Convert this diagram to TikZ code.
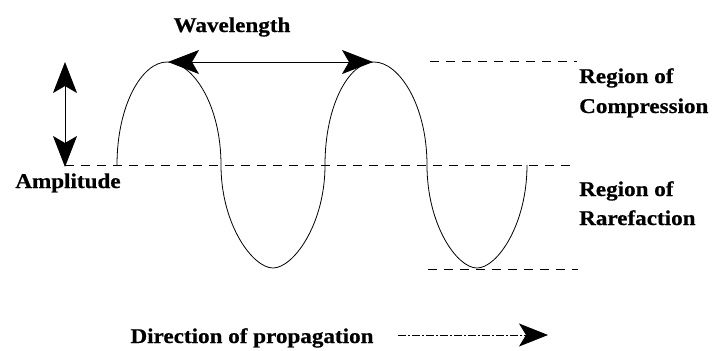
\documentclass[tikz,border=0pt]{standalone}
\usepackage{fontspec}
\setmainfont{Liberation Serif}[FakeStretch=1.1, BoldFeatures={FakeBold=0.6}]
\usetikzlibrary{arrows.meta}
\begin{document}
\begin{tikzpicture}[x=1pt,y=-1pt,
  lbl/.style={font=\fontsize{21}{24}\selectfont\bfseries, inner sep=0pt},
  wave/.style={line width=0.8pt},
  guide/.style={line width=0.7pt, dash pattern=on 9pt off 7pt},
  bigtip/.style={-{Stealth[length=29pt,width=23pt,inset=7pt]}},
  bigtips/.style={{Stealth[length=31pt,width=24pt,inset=7pt]}-{Stealth[length=31pt,width=24pt,inset=7pt]}},
]
\useasboundingbox (0,0) rectangle (716,351);
% wave key points
\coordinate (w0) at (117,165);
\coordinate (p1) at (167,62);
\coordinate (z1) at (221,165);
\coordinate (t1) at (273,268);
\coordinate (z2) at (325,165);
\coordinate (p2) at (374,62);
\coordinate (z3) at (427,165);
\coordinate (t2) at (477,268);
\coordinate (w4) at (527,165);
% guide line ends
\coordinate (gt0) at (430,61);  \coordinate (gt1) at (577,61);
\coordinate (gm0) at (65,165);  \coordinate (gm1) at (577,165);
\coordinate (gb0) at (428,269); \coordinate (gb1) at (578,269);
% amplitude arrow ends
\coordinate (a0) at (65,62);  \coordinate (a1) at (65,167);
% wavelength arrow ends
\coordinate (l0) at (168,62);  \coordinate (l1) at (373,62);
% propagation arrow ends
\coordinate (d0) at (398,335); \coordinate (d1) at (548,335);

\draw[guide] (gt0) -- (gt1);
\draw[guide] (gm0) -- (gm1);
\draw[guide] (gb0) -- (gb1);

\draw[wave] (w0) .. controls (117,105) and (142,62) .. (p1)
  .. controls (193,62) and (221,105) .. (z1)
  .. controls (221,225) and (253,268) .. (t1)
  .. controls (293,268) and (325,225) .. (z2)
  .. controls (325,105) and (349,62) .. (p2)
  .. controls (399,62) and (427,105) .. (z3)
  .. controls (427,225) and (457,268) .. (t2)
  .. controls (497,268) and (527,225) .. (w4);

\draw[line width=0.8pt, bigtips] (a0) -- (a1);
\draw[line width=0.8pt, bigtips] (l0) -- (l1);
\draw[line width=0.8pt, dash pattern=on 8pt off 2pt on 2pt off 2pt, bigtip] (d0) -- (d1);

\node[lbl, anchor=base] (wl) at (232,32) {Wavelength};
\node[lbl, anchor=base] (amp) at (68,188) {Amplitude};
\node[lbl, anchor=base west] (rc1) at (579,83) {Region of};
\node[lbl, anchor=base west] (rc2) at (579,113) {Compression};
\node[lbl, anchor=base west] (rr1) at (579,196) {Region of};
\node[lbl, anchor=base west] (rr2) at (579,225) {Rarefaction};
\node[lbl, anchor=base] (dir) at (252,343) {Direction of propagation};
\end{tikzpicture}
\end{document}
